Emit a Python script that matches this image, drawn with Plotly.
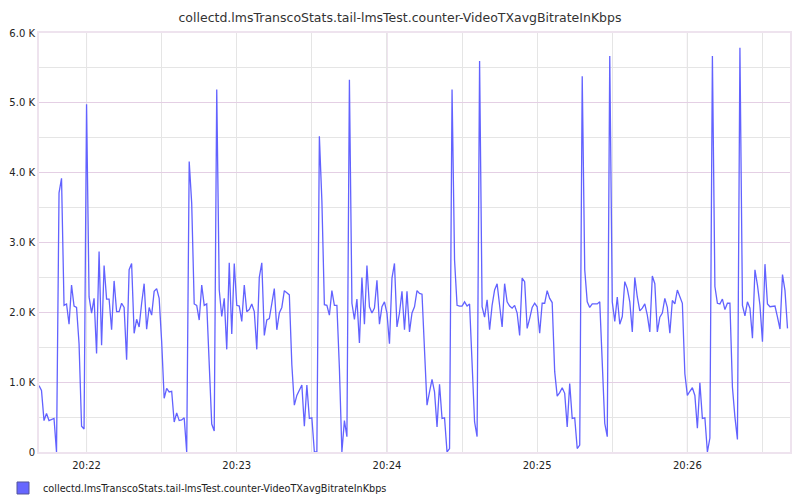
import pandas as pd
import plotly.graph_objects as go

# VideoTXavgBitrateInKbps, one sample per second starting 20:21:41
start_time = "2024-01-01 20:21:41"
end_time = "2024-01-01 20:26:41"
bitrate = [
    950, 880, 450, 550, 450, 460, 480, 0, 3710, 3920,
    2100, 2120, 1830, 2390, 2090, 2070, 1550, 370, 330, 4980,
    2220, 1990, 2200, 1410, 2870, 1530, 2670, 2190, 2190, 1750,
    2450, 2010, 2010, 2130, 2070, 1320, 2610, 2700, 1700, 1900,
    1790, 2130, 2410, 1760, 2070, 1960, 2300, 2340, 2200, 1580,
    770, 910, 860, 870, 430, 560, 450, 460, 490, 0,
    4160, 3560, 2120, 2100, 1890, 2390, 2100, 2120, 1300, 400,
    300, 5190, 2320, 1940, 2200, 1470, 2710, 1690, 2700, 2100,
    2090, 1870, 2390, 2010, 2040, 2120, 2010, 1470, 2500, 2710,
    1670, 1890, 1910, 2140, 2340, 1750, 1990, 2070, 2310, 2280,
    2250, 1250, 670, 810, 890, 960, 370, 960, 480, 490,
    0, 0, 4520, 3600, 2110, 2100, 1960, 2310, 2100, 2100,
    1200, 0, 450, 220, 5330, 2130, 1900, 2190, 1560, 2500,
    1830, 2670, 2080, 1990, 2060, 2460, 1830, 2080, 2150, 1990,
    1550, 2490, 2700, 1790, 1990, 2300, 1750, 2300, 1720, 1990,
    2080, 2310, 2270, 2260, 1460, 670, 860, 1040, 860, 360,
    970, 480, 490, 0, 50, 5190, 2750, 2100, 2090, 2090,
    2150, 2090, 2120, 1200, 430, 220, 5600, 2080, 1930, 2180,
    1750, 2100, 2320, 2410, 2130, 1790, 2410, 2150, 2090, 2060,
    2100, 1990, 1670, 2490, 2440, 1770, 1910, 2070, 2130, 2080,
    1700, 2130, 2130, 2310, 2200, 2140, 1150, 800, 850, 920,
    840, 360, 980, 480, 490, 50, 100, 5380, 2610, 2150,
    2070, 2120, 2120, 2120, 2150, 1200, 410, 220, 5670, 2150,
    1870, 2220, 1830, 1940, 2440, 2340, 2150, 1720, 2500, 2220,
    2020, 2060, 2120, 1960, 1720, 2520, 2410, 1720, 1930, 1990,
    2200, 2070, 1700, 2170, 2120, 2320, 2210, 2130, 1120, 810,
    870, 920, 810, 340, 990, 480, 490, 0, 200, 5670,
    2370, 2130, 2120, 2190, 2040, 2130, 2130, 930, 500, 180,
    5790, 2100, 1950, 2150, 2060, 1630, 2610, 2390, 2100, 1580,
    2690, 2120, 2080, 2080, 2090, 1930, 1760, 2540, 2310, 1770,
]
times = pd.date_range(start_time, periods=len(bitrate), freq="s")

y_ticks = [0, 1000, 2000, 3000, 4000, 5000, 6000]
y_labels = ["0", "1.0 K", "2.0 K", "3.0 K", "4.0 K", "5.0 K", "6.0 K"]
# every second minute gets the stronger grid line
strong_minutes = ["2024-01-01 20:22:00", "2024-01-01 20:24:00", "2024-01-01 20:26:00"]

series_name = "collectd.lmsTranscoStats.tail-lmsTest.counter-VideoTXavgBitrateInKbps"
line_color = "#6262ff"
purple_grid = "#e4cfe4"
grey_grid = "#e5e5e5"

fig = go.Figure()
fig.add_trace(go.Scatter(
    x=times, y=bitrate, mode="lines",
    line=dict(color=line_color, width=1.3),
    showlegend=False, name=series_name,
))
# legend entry with a square swatch
fig.add_trace(go.Bar(
    x=[None], y=[None], name=series_name,
    marker=dict(color="#6666ff", line=dict(color="#55559a", width=1)),
))

for t in strong_minutes:
    fig.add_shape(type="line", xref="x", yref="paper", x0=t, x1=t, y0=0, y1=1,
                  line=dict(color="#dcc4dc", width=1), layer="below")

# the page body adds an 8px offset, so the figure is 8px smaller each way
fig.update_layout(
    width=792, height=492,
    margin=dict(l=31, r=10, t=25, b=48, autoexpand=False),
    paper_bgcolor="white",
    plot_bgcolor="white",
    font=dict(family="DejaVu Sans", size=10, color="#222222"),
    title=dict(text=series_name, x=0.5 - 4 / 792, xanchor="center", y=0.98, yanchor="middle",
               font=dict(size=12.5, color="#333333")),
    showlegend=True,
    legend=dict(xref="container", yref="container", x=0, y=0.0244,
                xanchor="left", yanchor="middle", font=dict(size=9.7, color="#222222"),
                bgcolor="rgba(0,0,0,0)", itemwidth=30, indentation=-5),
    bargap=0,
)
fig.update_xaxes(
    type="date",
    range=[start_time, end_time],
    dtick=60000, tickformat="%H:%M",
    showgrid=True, gridcolor=grey_grid, gridwidth=1,
    minor=dict(dtick=30000, showgrid=True, gridcolor=grey_grid),
    showline=True, linecolor="#eee3ee", linewidth=2, mirror=True,
    ticks="", zeroline=False, automargin=False, ticklabelstandoff=3,
)
fig.update_yaxes(
    range=[0, 6000],
    tickvals=y_ticks, ticktext=y_labels,
    showgrid=True, gridcolor=purple_grid, gridwidth=1,
    minor=dict(dtick=500, showgrid=True, gridcolor=grey_grid),
    showline=True, linecolor="#eee3ee", linewidth=2, mirror=True,
    ticks="", zeroline=False, automargin=False,
)

fig.write_html("out.html")
